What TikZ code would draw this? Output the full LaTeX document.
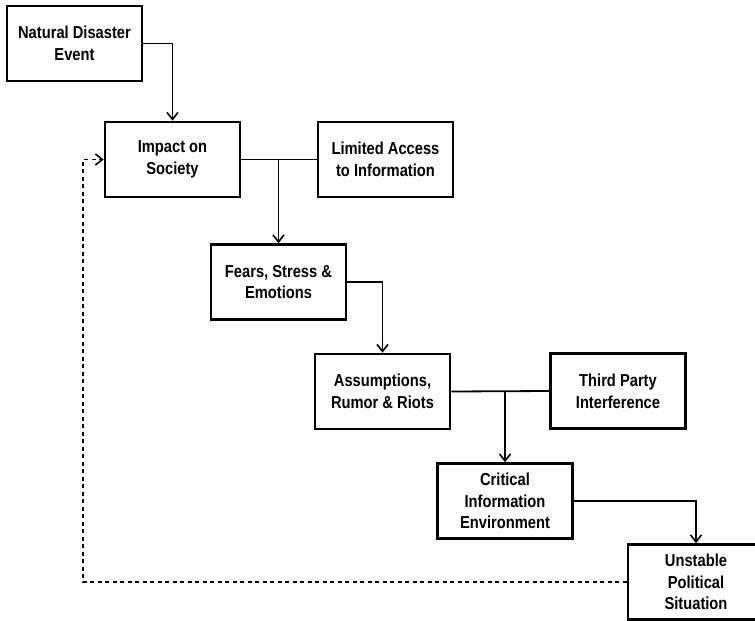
\documentclass[tikz,border=0pt]{standalone}
\usepackage{fontspec}
\setmainfont{Liberation Sans}[FakeStretch=0.85]
\usepackage{tikz}
\usetikzlibrary{arrows.meta}

\tikzset{
  stage/.style={draw,line width=2.6pt,minimum width=135pt,minimum height=75pt,
    align=center,inner sep=2pt,font=\fontsize{17.3}{21.7}\selectfont\bfseries},
  link/.style={line width=1.8pt},
  flow/.style={link,-{Straight Barb[length=7pt,width=11pt,line width=1.6pt]}}
}

\begin{document}
\begin{tikzpicture}[x=1pt,y=-1pt]
  \useasboundingbox (0,0) rectangle (755,621);
  \node[stage] (nat) at (74.5,43.5) {Natural Disaster\\Event};
  \node[stage] (impact) at (172.5,159.5) {Impact on\\Society};
  \node[stage] (access) at (385.5,159.5) {Limited Access\\to Information};
  \node[stage] (fears) at (278.5,282) {Fears, Stress \&\\Emotions};
  \node[stage] (rumor) at (382.5,391.5) {Assumptions,\\Rumor \& Riots};
  \node[stage] (third) at (618,391) {Third Party\\Interference};
  \node[stage] (crit) at (505,501) {Critical\\Information\\Environment};
  \node[stage,minimum width=136pt] (unstable) at (696,582) {Unstable\\Political\\Situation};
  \coordinate (back) at (83,0);

  \draw[flow] (nat.east) -| (impact.north);
  \draw[link] (impact.east) -- (access.west);
  \draw[flow] (impact.east -| fears.north) -- (fears.north);
  \draw[flow] (fears.east) -| (rumor.north);
  \draw[link] (rumor.east) -- (third.west);
  \draw[flow] (rumor.east -| crit.north) -- (crit.north);
  \draw[flow] (crit.east) -| (unstable.north);
  \draw[flow,dash pattern=on 4pt off 3.5pt] (unstable.west) -- (unstable.west -| back) |- (impact.west);
\end{tikzpicture}
\end{document}
